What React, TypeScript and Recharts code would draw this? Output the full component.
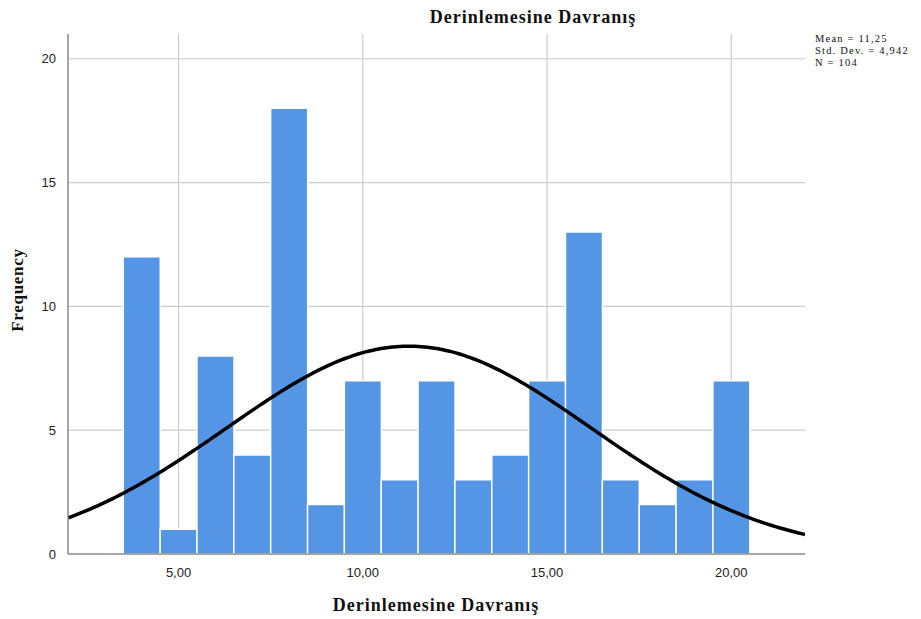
import React from "react";
import {
  ComposedChart,
  Bar,
  Line,
  XAxis,
  YAxis,
  CartesianGrid,
} from "recharts";

// Histogram bins (bin width 1, centered on the integer score)
const binCenters = [4, 5, 6, 7, 8, 9, 10, 11, 12, 13, 14, 15, 16, 17, 18, 19, 20];
const frequencies = [12, 1, 8, 4, 18, 2, 7, 3, 7, 3, 4, 7, 13, 3, 2, 3, 7];

// Summary statistics shown beside the plot
const mean = 11.25;
const stdDev = 4.942;
const n = 104;
const binWidth = 1;

const xTicks = [5, 10, 15, 20];
const yTicks = [0, 5, 10, 15, 20];
const xDomain: [number, number] = [2, 22];
const yDomain: [number, number] = [0, 21];

const histData = binCenters.map((x, i) => ({ x, freq: frequencies[i] }));

// Fitted normal curve scaled to counts, using the stated mean / SD / N
const curveXs: number[] = [];
for (let x = xDomain[0]; x <= xDomain[1] + 1e-9; x += 0.1) curveXs.push(+x.toFixed(2));
const curveData = curveXs.map((x) => ({
  x,
  curve:
    ((n * binWidth) / (stdDev * Math.sqrt(2 * Math.PI))) *
    Math.exp(-((x - mean) ** 2) / (2 * stdDev * stdDev)),
}));

const fmtX = (v: number) => v.toFixed(2).replace(".", ",");

const serif = "'Liberation Serif', 'Times New Roman', serif";
const sans = "'Liberation Sans', Arial, sans-serif";

const W = 921;
const H = 619;
const Y_AXIS_W = 60;
const X_AXIS_H = 30;
// plot area: left 68, right 805, top 34, bottom 554
const M = { top: 34, right: 116, bottom: 619 - 554 - X_AXIS_H, left: 68 - Y_AXIS_W };

export default function App() {
  return (
    <div style={{ margin: "-8px 0 0 -8px", width: W, height: H, position: "relative", background: "#fff" }}>
      <ComposedChart
        width={W}
        height={H}
        data={histData}
        margin={M}
        barCategoryGap={0}
        barGap={0}
      >
        <CartesianGrid
          stroke="#cccccc"
          strokeWidth={1.2}
          xAxisId="bins"
          verticalValues={xTicks}
          horizontalValues={[5, 10, 15, 20]}
        />
        <XAxis
          xAxisId="bins"
          dataKey="x"
          type="number"
          domain={xDomain}
          ticks={xTicks}
          allowDataOverflow
          tickFormatter={fmtX}
          stroke="#888888"
          strokeWidth={1.5}
          tickLine={false}
          tick={{ fill: "#222", fontSize: 13, fontFamily: sans }}
          tickMargin={8}
          height={X_AXIS_H}
        />
        <XAxis
          xAxisId="curve"
          dataKey="x"
          type="number"
          domain={xDomain}
          allowDataOverflow
          hide
        />
        <YAxis
          type="number"
          domain={yDomain}
          ticks={yTicks}
          allowDataOverflow
          stroke="#888888"
          strokeWidth={1.5}
          tickLine={false}
          tick={{ fill: "#222", fontSize: 13, fontFamily: sans }}
          tickMargin={6}
          width={Y_AXIS_W}
        />
        <Bar
          xAxisId="bins"
          dataKey="freq"
          fill="#5595E5"
          stroke="#ffffff"
          strokeWidth={1.5}
          isAnimationActive={false}
        />
        <Line
          xAxisId="curve"
          data={curveData}
          dataKey="curve"
          type="monotone"
          stroke="#000000"
          strokeWidth={3.5}
          dot={false}
          activeDot={false}
          isAnimationActive={false}
        />
        <text x={533} y={23} textAnchor="middle" fontFamily={serif} fontWeight="bold" fontSize={18} letterSpacing={1} fill="#111">
          Derinlemesine Davranış
        </text>
        <text x={436} y={611} textAnchor="middle" fontFamily={serif} fontWeight="bold" fontSize={18} letterSpacing={1} fill="#111">
          Derinlemesine Davranış
        </text>
        <text
          x={23}
          y={290}
          textAnchor="middle"
          transform="rotate(-90 23 290)"
          fontFamily={serif}
          fontWeight="bold"
          fontSize={17}
          letterSpacing={0.7}
          fill="#111"
        >
          Frequency
        </text>
        <text fontFamily={serif} fontSize={10.5} letterSpacing={1.2} fill="#111">
          <tspan x={815} y={42}>Mean = 11,25</tspan>
          <tspan x={815} y={54}>Std. Dev. = 4,942</tspan>
          <tspan x={815} y={66}>N = 104</tspan>
        </text>
      </ComposedChart>
    </div>
  );
}
